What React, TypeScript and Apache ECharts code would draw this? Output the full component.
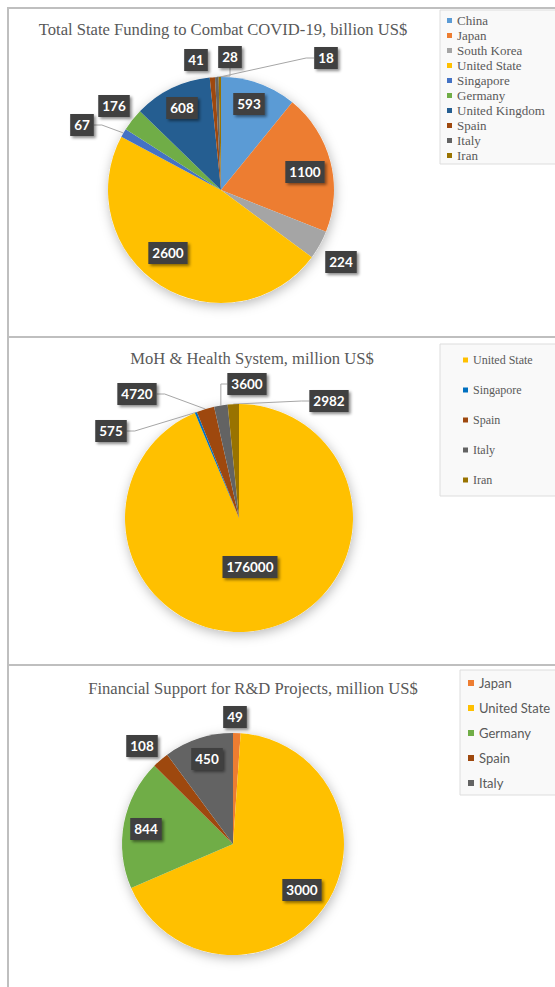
import React, { useEffect, useRef } from "react";
import * as echarts from "echarts";

// ---------- Data ----------
const names1 = ["China", "Japan", "South Korea", "United State", "Singapore", "Germany", "United Kingdom", "Spain", "Italy", "Iran"];
const values1 = [593, 1100, 224, 2600, 67, 176, 608, 41, 28, 18];

const names2 = ["United State", "Singapore", "Spain", "Italy", "Iran"];
const values2 = [176000, 575, 4720, 3600, 2982];

const names3 = ["Japan", "United State", "Germany", "Spain", "Italy"];
const values3 = [49, 3000, 844, 108, 450];

const titles = [
  "Total State Funding to Combat COVID-19, billion US$",
  "MoH & Health System, million US$",
  "Financial Support for R&D Projects, million US$",
];

// ---------- Styles / layout ----------
const colors1 = ["#5B9BD5", "#ED7D31", "#A5A5A5", "#FFC000", "#4472C4", "#70AD47", "#255E91", "#9E480E", "#636363", "#997300"];
const colors2 = ["#FFC000", "#0070C0", "#9E480E", "#636363", "#997300"];
const colors3 = ["#ED7D31", "#FFC000", "#70AD47", "#9E480E", "#636363"];

// label offsets relative to pie centre (px)
const labelOffsets1 = [[28, -86], [84, -18], [120, 72], [-53, 63], [-139, -65], [-107, -84], [-39, -82], [-25, -130], [9, -133], [105, -132]];
const leader1 = [false, false, false, false, true, false, false, false, true, true];
const labelOffsets2 = [[11, 49], [-128, -87], [-102, -124], [8, -134], [90, -117]];
const leader2 = [false, true, true, true, true];
const labelOffsets3 = [[2, -127], [69, 46], [-87, -15], [-91, -98], [-26, -85]];
const leader3 = [false, false, false, false, false];

const pies = [
  { cx: 221, cy: 190, r: 113 },
  { cx: 239, cy: 518, r: 114 },
  { cx: 233, cy: 844, r: 111 },
];
const titlePos = [
  { x: 223, y: 29 },
  { x: 252, y: 358 },
  { x: 253, y: 688 },
];

const SERIF = "'Liberation Serif', 'Times New Roman', serif";

const labelStyle = {
  show: true,
  position: "outside",
  formatter: "{c}",
  color: "#ffffff",
  fontFamily: "Lato",
  fontWeight: "bold",
  fontSize: 13.5,
  lineHeight: 16,
  backgroundColor: "#404040",
  padding: [3, 4, 3, 4],
  shadowColor: "rgba(0,0,0,0.45)",
  shadowBlur: 3,
  shadowOffsetX: 2,
  shadowOffsetY: 2,
};

function makePie(
  id: string,
  names: string[],
  values: number[],
  colors: string[],
  offsets: number[][],
  leader: boolean[],
  p: { cx: number; cy: number; r: number }
) {
  return {
    type: "pie",
    name: id,
    z: 3,
    center: [p.cx, p.cy],
    radius: p.r,
    startAngle: 90,
    clockwise: true,
    avoidLabelOverlap: false,
    emphasis: { disabled: true },
    itemStyle: { borderWidth: 0 },
    label: labelStyle,
    labelLine: {
      show: true,
      length: 10,
      length2: 8,
      smooth: false,
      lineStyle: { color: "#a6a6a6", width: 1 },
    },
    labelLayout: (params: any) => {
      const o = offsets[params.dataIndex];
      return { x: p.cx + o[0], y: p.cy + o[1], align: "center", verticalAlign: "middle" };
    },
    data: names.map((n, i) => ({
      name: n,
      value: values[i],
      itemStyle: { color: colors[i] },
      labelLine: { show: leader[i] },
    })),
  };
}

function shadowPie(id: string, p: { cx: number; cy: number; r: number }) {
  return {
    type: "pie",
    name: id,
    z: 1,
    silent: true,
    center: [p.cx, p.cy],
    radius: p.r,
    label: { show: false },
    labelLine: { show: false },
    emphasis: { disabled: true },
    itemStyle: {
      color: "#ffffff",
      shadowBlur: 12,
      shadowColor: "rgba(0,0,0,0.28)",
      shadowOffsetX: 1,
      shadowOffsetY: 3,
    },
    data: [{ value: 1, name: "" }],
  };
}

function legendData(names: string[], colors: string[], textStyle: any) {
  return names.map((n, i) => ({ name: n, itemStyle: { color: colors[i] }, textStyle }));
}

export default function App() {
  const ref = useRef<HTMLDivElement>(null);

  useEffect(() => {
    if (!ref.current) return;
    const chart = echarts.init(ref.current, undefined, { renderer: "svg" });
    const border = { stroke: "#bfbfbf", lineWidth: 2 };
    const lt1 = { fontFamily: SERIF, fontSize: 13, lineHeight: 15, color: "#595959" };
    const lt2 = { fontFamily: SERIF, fontSize: 12, lineHeight: 14, color: "#595959" };
    const lt3 = { fontFamily: "Lato", fontSize: 13, lineHeight: 16, color: "#595959" };
    const option: any = {
      animation: false,
      backgroundColor: "#ffffff",
      legend: [
        {
          orient: "vertical",
          left: 440,
          top: 10,
          padding: [3, 20, 1, 7],
          itemGap: 0,
          itemWidth: 5,
          itemHeight: 5,
          icon: "rect",
          selectedMode: false,
          backgroundColor: "#f9f9f9",
          borderColor: "#dddddd",
          borderWidth: 1,
          textStyle: lt1,
          data: legendData(names1, colors1, lt1),
        },
        {
          orient: "vertical",
          left: 440,
          top: 344,
          padding: [9, 30, 9, 23],
          itemGap: 16,
          itemWidth: 5,
          itemHeight: 5,
          icon: "rect",
          selectedMode: false,
          backgroundColor: "#f9f9f9",
          borderColor: "#dddddd",
          borderWidth: 1,
          textStyle: lt2,
          data: legendData(names2, colors2, lt2),
        },
        {
          orient: "vertical",
          left: 460,
          top: 670,
          padding: [5, 30, 4, 8],
          itemGap: 9,
          itemWidth: 6,
          itemHeight: 6,
          icon: "rect",
          selectedMode: false,
          backgroundColor: "#f9f9f9",
          borderColor: "#dddddd",
          borderWidth: 1,
          textStyle: lt3,
          data: legendData(names3, colors3, lt3),
        },
      ],
      graphic: [
        { type: "line", shape: { x1: 7, y1: 8, x2: 555, y2: 8 }, style: border, silent: true },
        { type: "line", shape: { x1: 8, y1: 7, x2: 8, y2: 987 }, style: border, silent: true },
        { type: "line", shape: { x1: 7, y1: 337, x2: 555, y2: 337 }, style: border, silent: true },
        { type: "line", shape: { x1: 7, y1: 665, x2: 555, y2: 665 }, style: border, silent: true },
        ...titles.map((t, i) => ({
          type: "text",
          x: titlePos[i].x,
          y: titlePos[i].y,
          silent: true,
          style: {
            text: t,
            fill: "#595959",
            fontFamily: SERIF,
            fontSize: 16.6,
            align: "center",
            verticalAlign: "middle",
          },
        })),
      ],
      series: [
        shadowPie("s1", pies[0]),
        shadowPie("s2", pies[1]),
        shadowPie("s3", pies[2]),
        makePie("Total", names1, values1, colors1, labelOffsets1, leader1, pies[0]),
        makePie("MoH", names2, values2, colors2, labelOffsets2, leader2, pies[1]),
        makePie("RnD", names3, values3, colors3, labelOffsets3, leader3, pies[2]),
      ],
    };
    chart.setOption(option);
    return () => chart.dispose();
  }, []);

  return (
    <div
      ref={ref}
      style={{ position: "absolute", left: 0, top: 0, width: 555, height: 987, background: "#fff" }}
    />
  );
}
